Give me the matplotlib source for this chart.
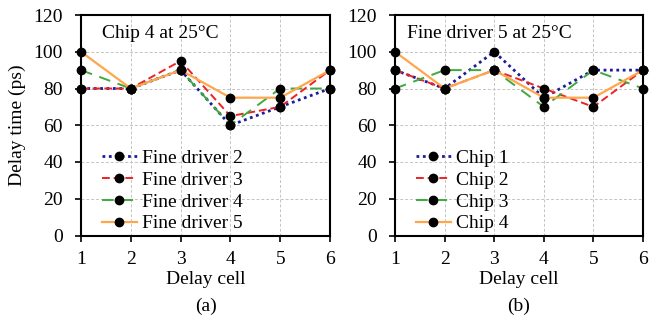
import numpy as np
import matplotlib.pyplot as plt

plt.rcParams['font.family'] = ['Liberation Serif', 'DejaVu Serif']

cells = [1, 2, 3, 4, 5, 6]

# (a) Chip 4 at 25C
fd2 = [80, 80, 90, 60, 70, 80]
fd3 = [80, 80, 95, 65, 70, 90]
fd4 = [90, 80, 90, 60, 80, 80]
fd5 = [100, 80, 90, 75, 75, 90]

# (b) Fine driver 5 at 25C
chip1 = [90, 80, 100, 75, 90, 90]
chip2 = [90, 80, 90, 80, 70, 90]
chip3 = [80, 90, 90, 70, 90, 80]
chip4 = [100, 80, 90, 75, 75, 90]

styles = [
    dict(color='#1c1c9a', linestyle=(0, (1, 1.3)), linewidth=2.0),
    dict(color='#ee2222', linestyle=(0, (4, 2)), linewidth=1.4),
    dict(color='#3cab3c', linestyle=(0, (6, 4)), linewidth=1.4),
    dict(color='#ffa64d', linestyle='-', linewidth=1.6),
]

fig = plt.figure(figsize=(6.5, 3.2), dpi=100)
ax1 = fig.add_axes([81 / 650, 1 - 235.5 / 320, 249 / 650, 220.5 / 320])
ax2 = fig.add_axes([395 / 650, 1 - 235.5 / 320, 248 / 650, 220.5 / 320])

panels = [
    (ax1, [fd2, fd3, fd4, fd5], ['Fine driver 2', 'Fine driver 3', 'Fine driver 4', 'Fine driver 5'],
     'Chip 4 at 25°C', '(a)', 0.084),
    (ax2, [chip1, chip2, chip3, chip4], ['Chip 1', 'Chip 2', 'Chip 3', 'Chip 4'],
     'Fine driver 5 at 25°C', '(b)', 0.048),
]

for ax, series, labels, title, tag, tx in panels:
    for ys, lab, st in zip(series, labels, styles):
        ax.plot(cells, ys, label=lab, marker='o', markersize=6.0, clip_on=False,
                markerfacecolor='black', markeredgecolor='black', **st)
    ax.set_xlim(1, 6)
    ax.set_ylim(0, 120)
    ax.set_xticks(cells)
    ax.set_yticks(np.arange(0, 121, 20))
    ax.grid(True, color='#c4c4c4', linestyle=(0, (3, 2)), linewidth=0.7)
    ax.set_axisbelow(True)
    for s in ax.spines.values():
        s.set_linewidth(1.5)
    ax.tick_params(labelsize=14, direction='out', width=1.2, length=4.5)
    ax.tick_params(axis='x', pad=6.5)
    ax.tick_params(axis='y', pad=8.5)
    ax.text(0.5, -0.199, 'Delay cell', transform=ax.transAxes, fontsize=14,
            ha='center', va='center')
    ax.text(0.5, -0.322, tag, transform=ax.transAxes, fontsize=14,
            ha='center', va='center')
    ax.text(tx, 0.918, title, transform=ax.transAxes, fontsize=14, va='center', ha='left')
    ax.legend(loc='lower left', bbox_to_anchor=(0.084, 0.014), frameon=False, fontsize=14,
              handlelength=1.8, handletextpad=0.25, labelspacing=0.22,
              borderaxespad=0, borderpad=0)

ax1.text(-0.257, 0.5, 'Delay time (ps)', transform=ax1.transAxes, fontsize=14,
         rotation=90, ha='center', va='center')

fig.savefig('out.png', dpi=100)
